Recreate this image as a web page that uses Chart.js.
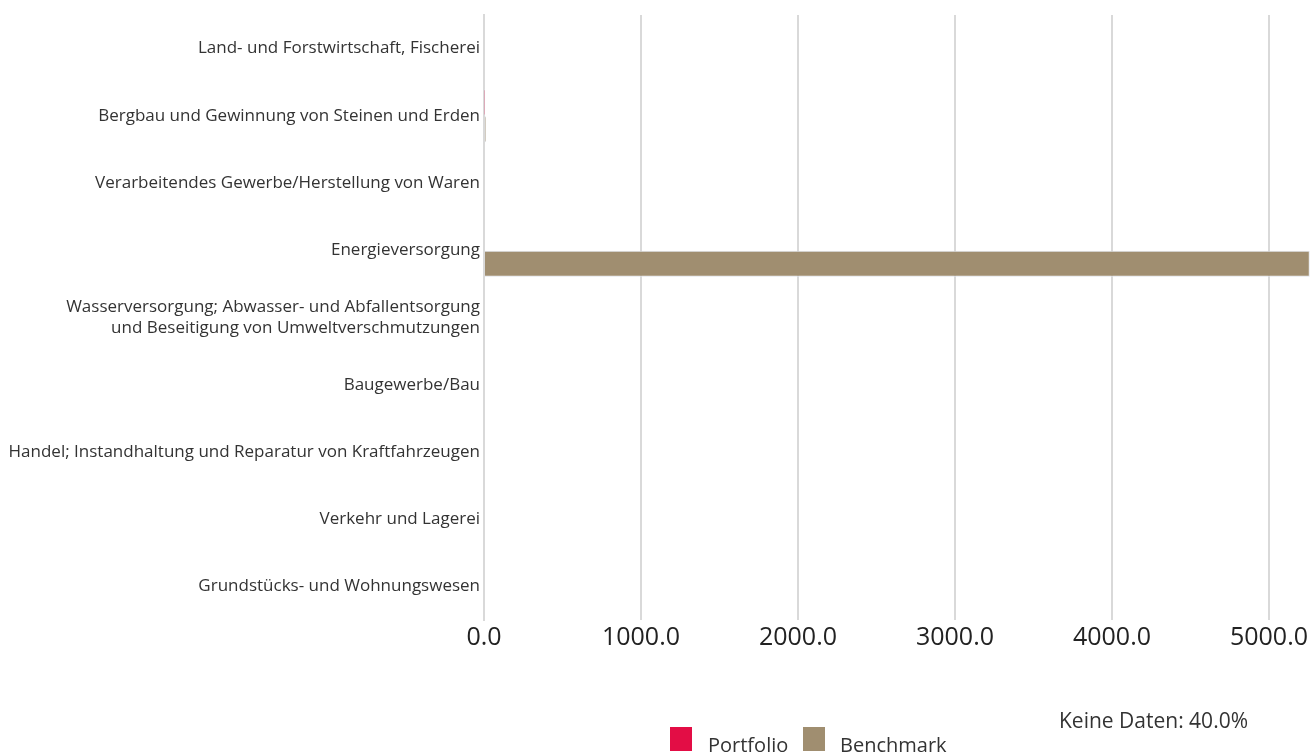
<!DOCTYPE html>
<html>
<head>
<meta charset="utf-8">
<script src="https://cdn.jsdelivr.net/npm/chart.js@4/dist/chart.umd.min.js"></script>
<style>
  html, body { margin: 0; padding: 0; background: #fff; }
  #wrap { position: relative; width: 1311px; height: 752px; font-family: "Open Sans", sans-serif; color: #333; }
  .box { position: absolute; width: 22px; height: 24px; }
  .lbl { position: absolute; font-size: 20px; line-height: 24px; }
</style>
</head>
<body>
<div id="wrap">
  <canvas id="chart"></canvas>
  <div class="box" style="left:670px;top:727px;background:#e30d45"></div>
  <div class="lbl" style="left:708px;top:733px">Portfolio</div>
  <div class="box" style="left:803px;top:727px;background:#a08e70"></div>
  <div class="lbl" style="left:840px;top:733px">Benchmark</div>
  <div class="lbl" style="left:1059px;top:708px;font-size:21px">Keine Daten: 40.0%</div>
</div>
<script>
// sectors (y axis)
const sectors = [
  "Land- und Forstwirtschaft, Fischerei",
  "Bergbau und Gewinnung von Steinen und Erden",
  "Verarbeitendes Gewerbe/Herstellung von Waren",
  "Energieversorgung",
  ["Wasserversorgung; Abwasser- und Abfallentsorgung", "und Beseitigung von Umweltverschmutzungen"],
  "Baugewerbe/Bau",
  "Handel; Instandhaltung und Reparatur von Kraftfahrzeugen",
  "Verkehr und Lagerei",
  "Grundstücks- und Wohnungswesen"
];

// values
const portfolio = [0, 2, 0, 0, 0, 0, 0, 0, 0];
const benchmark = [0, 12, 0, 5260, 0, 0, 0, 0, 0];

// x axis
const xTicks = [0, 1000, 2000, 3000, 4000, 5000];
const xMax = 5260;

new Chart(document.getElementById("chart"), {
  type: "bar",
  data: {
    labels: sectors,
    datasets: [
      {
        label: "Portfolio",
        data: portfolio,
        backgroundColor: "#e30d45",
        borderColor: "#dde1e8",
        borderWidth: 1,
        barPercentage: 0.97,
      },
      {
        label: "Benchmark",
        data: benchmark,
        backgroundColor: "#a08e70",
        borderColor: "#dde1e8",
        borderWidth: 1,
        barPercentage: 0.97,
      },
    ],
  },
  options: {
    indexAxis: "y",
    responsive: true,
    maintainAspectRatio: false,
    animation: false,
    layout: { padding: { top: 15, bottom: 96, left: 0, right: 0 } },
    plugins: {
      legend: { display: false },
      tooltip: { enabled: false },
    },
    scales: {
      x: {
        min: 0,
        max: xMax,
        afterBuildTicks: (scale) => {
          scale.ticks = xTicks.map((v) => ({ value: v }));
        },
        grid: { color: "#d9d9d9", lineWidth: 2, drawTicks: false },
        border: { display: false },
        ticks: {
          padding: 3,
          color: "#222",
          font: { family: "Open Sans", size: 25 },
          maxRotation: 0,
          callback: (v) => Number(v).toFixed(1),
        },
      },
      y: {
        afterFit: (scale) => { scale.width = 484; },
        grid: { display: false, drawTicks: false },
        border: { display: true, color: "#d9d9d9", width: 2 },
        ticks: {
          color: "#333",
          padding: 4,
          font: { family: "Open Sans", size: 17 },
        },
      },
    },
  },
});
</script>
</body>
</html>
